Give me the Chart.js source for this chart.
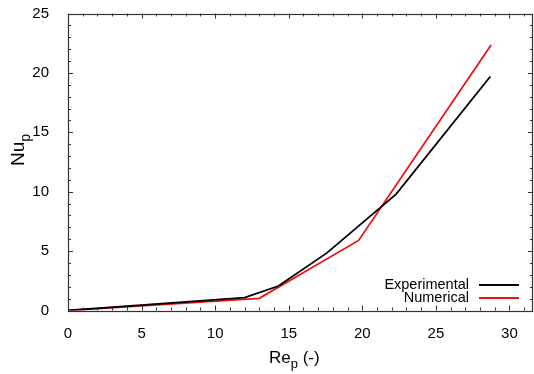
<!DOCTYPE html>
<html><head><meta charset="utf-8">
<script src="https://cdn.jsdelivr.net/npm/chart.js@4.4.0/dist/chart.umd.min.js"></script>
<style>html,body{margin:0;padding:0;background:#fff}#wrap{width:534px;height:374px}</style>
</head><body><div id="wrap"><canvas id="c" width="534" height="374"></canvas></div>
<script>
// ---- data ----
const seriesNames = ['Experimental', 'Numerical'];
const expRe = [0, 12.0, 14.3, 17.6, 22.3, 28.7];
const expNu = [0, 1.08, 2.06, 4.85, 9.8, 19.7];
const numRe = [0, 13.0, 19.75, 28.75];
const numNu = [0, 1.02, 5.9, 22.35];
const xTicks = [0, 5, 10, 15, 20, 25, 30];
const yTicks = [0, 5, 10, 15, 20, 25];
const xTitleParts = ['Re', 'p', ' (-)'];
const yTitleParts = ['Nu', 'p'];

const FONT = '"Liberation Sans", Arial, Helvetica, sans-serif';
const colors = ['#000000', '#e81414'];

const decor = {
  id: 'decor',
  afterDatasetsDraw(chart) {
    const ctx = chart.ctx, a = chart.chartArea;
    const xs = chart.scales.x, ys = chart.scales.y;
    ctx.save();
    ctx.strokeStyle = '#333';
    ctx.lineWidth = 1;
    // minor / major ticks, inward, mirrored
    for (let v = 0; v <= 31; v++) {
      const px = Math.round(xs.getPixelForValue(v)) + 0.5;
      const L = (v % 5 === 0) ? 5 : 3;
      ctx.beginPath();
      ctx.moveTo(px, a.bottom); ctx.lineTo(px, a.bottom - L);
      ctx.moveTo(px, a.top); ctx.lineTo(px, a.top + L);
      ctx.stroke();
    }
    for (let v = 0; v <= 25; v++) {
      const py = Math.round(ys.getPixelForValue(v)) + 0.5;
      const L = (v % 5 === 0) ? 5 : 3;
      ctx.beginPath();
      ctx.moveTo(a.left, py); ctx.lineTo(a.left + L, py);
      ctx.moveTo(a.right, py); ctx.lineTo(a.right - L, py);
      ctx.stroke();
    }
    ctx.lineWidth = 1.2;
    ctx.strokeRect(Math.round(a.left) + 0.5, Math.round(a.top) + 0.5,
                   Math.round(a.right - a.left) - 1, Math.round(a.bottom - a.top));
    // legend (text right, sample line to the right)
    ctx.font = '14.5px ' + FONT;
    ctx.fillStyle = '#000';
    ctx.textAlign = 'right';
    ctx.textBaseline = 'middle';
    chart.data.datasets.forEach((ds, i) => {
      const y = 285 + i * 13;
      ctx.fillText(ds.label, 469, y);
      ctx.strokeStyle = ds.borderColor;
      ctx.lineWidth = 2;
      ctx.beginPath(); ctx.moveTo(479, y); ctx.lineTo(519, y); ctx.stroke();
    });
    // x title with subscript
    ctx.textAlign = 'left';
    ctx.textBaseline = 'alphabetic';
    let x = 269, yb = 363;
    ctx.font = '17px ' + FONT; ctx.fillText(xTitleParts[0], x, yb); x += ctx.measureText(xTitleParts[0]).width;
    ctx.font = '13px ' + FONT; ctx.fillText(xTitleParts[1], x, yb + 5); x += ctx.measureText(xTitleParts[1]).width;
    ctx.font = '17px ' + FONT; ctx.fillText(xTitleParts[2], x, yb);
    // y title rotated
    ctx.translate(24, 166);
    ctx.rotate(-Math.PI / 2);
    x = 0;
    ctx.font = '19px ' + FONT; ctx.fillText(yTitleParts[0], x, 0); x += ctx.measureText(yTitleParts[0]).width;
    ctx.font = '14px ' + FONT; ctx.fillText(yTitleParts[1], x, 6);
    ctx.restore();
  }
};

new Chart(document.getElementById('c'), {
  type: 'line',
  data: {
    datasets: [
      { label: seriesNames[0], data: expRe.map((r, i) => ({ x: r, y: expNu[i] })),
        borderColor: colors[0], borderWidth: 1.8, pointRadius: 0, tension: 0, fill: false },
      { label: seriesNames[1], data: numRe.map((r, i) => ({ x: r, y: numNu[i] })),
        borderColor: colors[1], borderWidth: 1.8, pointRadius: 0, tension: 0, fill: false }
    ]
  },
  options: {
    responsive: false,
    animation: false,
    devicePixelRatio: 1,
    layout: { padding: { top: 13.5, right: 1, left: 0, bottom: 0 } },
    plugins: { legend: { display: false }, tooltip: { enabled: false } },
    scales: {
      x: {
        type: 'linear', min: 0, max: 31.6,
        afterBuildTicks: s => { s.ticks = xTicks.map(v => ({ value: v })); },
        afterFit: s => { s.height = 63.5; s.paddingLeft = 0; s.paddingRight = 0; },
        grid: { display: false }, border: { display: false },
        ticks: { font: { size: 15, family: FONT }, color: '#000', padding: 6, maxRotation: 0 }
      },
      y: {
        type: 'linear', min: 0, max: 25,
        afterBuildTicks: s => { s.ticks = yTicks.map(v => ({ value: v })); },
        afterFit: s => { s.width = 68; s.paddingTop = 0; s.paddingBottom = 0; },
        grid: { display: false }, border: { display: false },
        ticks: { font: { size: 15, family: FONT }, color: '#000', padding: 11 }
      }
    }
  },
  plugins: [decor]
});
</script>
</body></html>
